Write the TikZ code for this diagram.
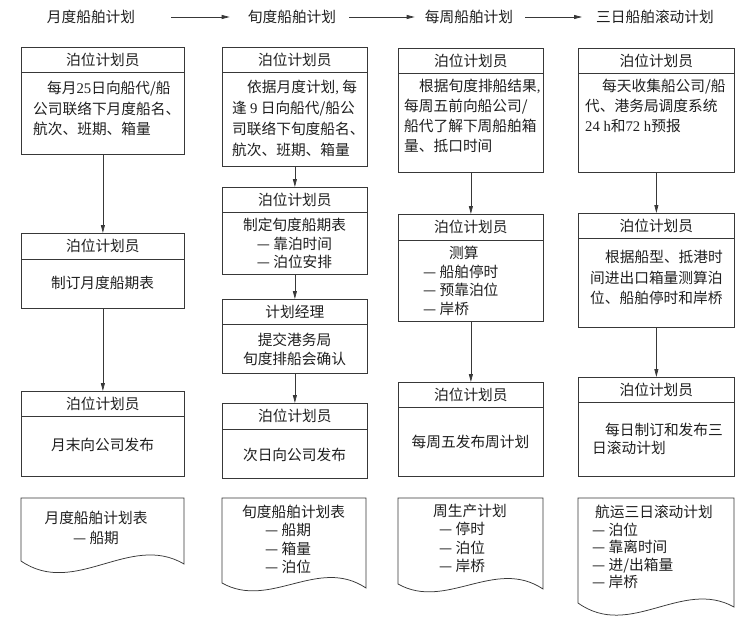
\documentclass[tikz,border=0pt]{standalone}
\usepackage{fontspec}
\setmainfont{Noto Sans CJK SC}
\newfontfamily\lat{Liberation Serif}
\usetikzlibrary{arrows.meta}
\definecolor{ln}{gray}{0.22}
\definecolor{tx}{gray}{0.12}
\tikzset{
  txt/.style={inner sep=0pt, text=tx, font=\fontsize{14.7}{20}\selectfont},
  frame/.style={draw=ln, line width=0.75pt, inner sep=0pt, anchor=north west},
  arr/.style={draw=ln, line width=0.75pt, -{Triangle[length=8pt,width=4pt]}},
  docline/.style={draw=ln, line width=0.75pt},
}
% name, left, top, width, height, header height, header text
\newcommand\mkbox[7]{%
  \node[frame, minimum width=#4pt, minimum height=#5pt] (#1) at (#2,#3) {};
  \draw[docline] ([yshift=-#6pt]#1.north west) -- ([yshift=-#6pt]#1.north east);
  \node[txt] (#1h) at ([yshift=-#6pt/2]#1.north) {#7};
}
\begin{document}
\begin{tikzpicture}[x=1pt,y=-1pt]
\useasboundingbox[fill=white] (0,0) rectangle (744,623);

% titles
\node[txt] (t1) at (91,17) {月度船舶计划};
\node[txt] (t2) at (292,17) {旬度船舶计划};
\node[txt] (t3) at (469,17) {每周船舶计划};
\node[txt] (t4) at (655,17) {三日船舶滚动计划};
\draw[arr, shorten <=36pt, shorten >=18pt] (t1.east) -- (t2.west);
\draw[arr, shorten <=13pt, shorten >=10pt] (t2.east) -- (t3.west);
\draw[arr, shorten <=12pt, shorten >=14pt] (t3.east) -- (t4.west);

% column 1
\mkbox{c1a}{21}{47}{163}{107}{25}{泊位计划员}
\mkbox{c1b}{21}{233}{163}{75}{26}{泊位计划员}
\mkbox{c1c}{21}{391}{163}{85}{25}{泊位计划员}
\node[txt, align=left, anchor=north west, font=\fontsize{14.7}{20.5}\selectfont] (c1at) at (33,81)
 {\hspace*{14pt}每月{\lat 25}日向船代/船\\公司联络下月度船名、\\航次、班期、箱量};
\node[txt] (c1bt) at (102.5,283) {制订月度船期表};
\node[txt] (c1ct) at (102.5,445) {月末向公司发布};
\draw[arr] (c1a.south) -- (c1b.north);
\draw[arr] (c1b.south) -- (c1c.north);

% column 2
\mkbox{c2a}{222}{47}{145}{119}{25}{泊位计划员}
\mkbox{c2b}{222}{187}{145}{87}{25}{泊位计划员}
\mkbox{c2c}{222}{299}{145}{74}{25}{计划经理}
\mkbox{c2d}{222}{403}{145}{75}{26}{泊位计划员}
\node[txt, align=left, anchor=north west, font=\fontsize{14.7}{21}\selectfont] (c2at) at (232,80)
 {\hspace*{15pt}依据月度计划{\lat,} 每\\逢 {\lat 9} 日向船代/船公\\司联络下旬度船名、\\航次、班期、箱量};
\node[txt, align=center, anchor=north, font=\fontsize{14.7}{18.5}\selectfont] (c2bt) at (294.5,218)
 {制定旬度船期表\\— 靠泊时间\\— 泊位安排};
\node[txt, align=center, anchor=north, font=\fontsize{14.7}{19}\selectfont] (c2ct) at (294.5,333)
 {提交港务局\\旬度排船会确认};
\node[txt] (c2dt) at (294.5,455) {次日向公司发布};
\draw[arr] (c2a.south) -- (c2b.north);
\draw[arr] (c2b.south) -- (c2c.north);
\draw[arr] (c2c.south) -- (c2d.north);

% column 3
\mkbox{c3a}{398}{48}{145}{124}{25}{泊位计划员}
\mkbox{c3b}{398}{214}{145}{107}{26}{泊位计划员}
\mkbox{c3c}{398}{382}{145}{94}{25}{泊位计划员}
\node[txt, align=left, anchor=north west] (c3at) at (404,79)
 {\hspace*{15pt}根据旬度排船结果{\lat,}\\每周五前向船公司/\\船代了解下周船舶箱\\量、抵口时间};
\node[txt, align=left, anchor=north west, font=\fontsize{14.7}{18.5}\selectfont] (c3bt) at (423,246)
 {\hspace*{26pt}测算\\— 船舶停时\\— 预靠泊位\\— 岸桥};
\node[txt] (c3ct) at (470.5,442) {每周五发布周计划};
\draw[arr] (c3a.south) -- (c3b.north);
\draw[arr] (c3b.south) -- (c3c.north);

% column 4
\mkbox{c4a}{578}{48}{156}{124}{25}{泊位计划员}
\mkbox{c4b}{578}{213}{156}{114}{25}{泊位计划员}
\mkbox{c4c}{578}{377}{156}{99}{25}{泊位计划员}
\node[txt, align=left, anchor=north west] (c4at) at (585,79)
 {\hspace*{17pt}每天收集船公司/船\\代、港务局调度系统\\{\lat 24 h}和{\lat 72 h}预报};
\node[txt, align=left, anchor=north west, font=\fontsize{14.7}{20.5}\selectfont] (c4bt) at (590,250)
 {\hspace*{15pt}根据船型、抵港时\\间进出口箱量测算泊\\位、船舶停时和岸桥};
\node[txt, align=left, anchor=north west, font=\fontsize{14.7}{18}\selectfont] (c4ct) at (592,423)
 {\hspace*{13pt}每日制订和发布三\\日滚动计划};
\draw[arr] (c4a.south) -- (c4b.north);
\draw[arr] (c4b.south) -- (c4c.north);

% documents
\draw[docline] (21,498) -- (184,498) -- (184,564) .. controls (130,532) and (75,598) .. (21,561) -- cycle;
\draw[docline] (222,498) -- (366,498) -- (366,588) .. controls (318,556) and (270,610) .. (222,583) -- cycle;
\draw[docline] (398,498) -- (543,498) -- (543,589) .. controls (495,557) and (446,611) .. (398,584) -- cycle;
\draw[docline] (578,498) -- (734,498) -- (734,607) .. controls (682,578) and (630,640) .. (578,603) -- cycle;

\node[txt, align=center, anchor=north] (d1t) at (96,511) {月度船舶计划表\\— 船期};
\node[txt, align=left, anchor=north west, font=\fontsize{14.7}{18.3}\selectfont] (d2t) at (242,505)
 {旬度船舶计划表\\\hspace*{23pt}— 船期\\\hspace*{23pt}— 箱量\\\hspace*{23pt}— 泊位};
\node[txt, align=left, anchor=north west, font=\fontsize{14.7}{18.3}\selectfont] (d3t) at (433,504)
 {周生产计划\\\hspace*{6pt}— 停时\\\hspace*{6pt}— 泊位\\\hspace*{6pt}— 岸桥};
\node[txt, align=left, anchor=north west, font=\fontsize{14.7}{17.5}\selectfont] (d4t) at (592,505)
 {\hspace*{3pt}航运三日滚动计划\\— 泊位\\— 靠离时间\\— 进/出箱量\\— 岸桥};
\end{tikzpicture}
\end{document}
